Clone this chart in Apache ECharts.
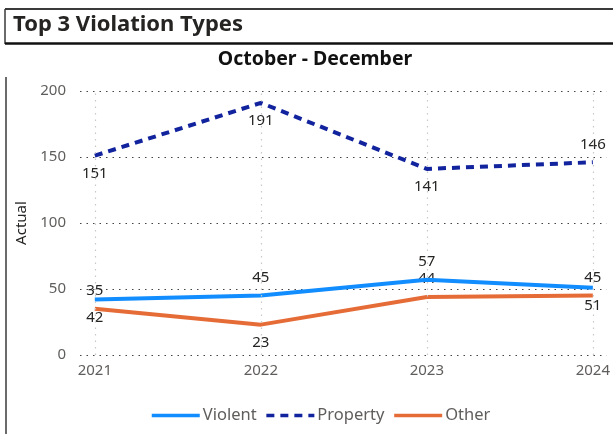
<!DOCTYPE html>
<html><head><meta charset="utf-8">
<script src="https://cdn.jsdelivr.net/npm/echarts@6/dist/echarts.min.js"></script>
<style>html,body{margin:0;padding:0;background:#fff;}#c{width:613px;height:434px;}</style>
</head><body><div id="c"></div>
<script>
const years = [2021, 2022, 2023, 2024];
const violent = [42, 45, 57, 51];
const property = [151, 191, 141, 146];
const other = [35, 23, 44, 45];
const yTicks = [0, 50, 100, 150, 200];

const FONT = 'Noto Sans';
function pts(vals, places) {
  return years.map((y, i) => ({ value: [y, vals[i]], label: { position: places[i] } }));
}
const chart = echarts.init(document.getElementById('c'), null, { renderer: 'canvas' });
const labelBase = { show: true, fontFamily: FONT, fontSize: 15, color: '#252423', distance: 10,
  formatter: p => String(p.value[1]) };
const hiddenDot = { color: 'rgba(0,0,0,0)', borderWidth: 0 };
const option = {
  animation: false,
  backgroundColor: '#fff',
  textStyle: { fontFamily: FONT },
  graphic: [
    { type: 'line', shape: { x1: 5, y1: 9, x2: 613, y2: 9 }, style: { stroke: '#3a3a3a', lineWidth: 2 } },
    { type: 'line', shape: { x1: 5, y1: 9, x2: 5, y2: 44 }, style: { stroke: '#3a3a3a', lineWidth: 1.5 } },
    { type: 'line', shape: { x1: 5, y1: 43.5, x2: 613, y2: 43.5 }, style: { stroke: '#111', lineWidth: 2.5 } },
    { type: 'line', shape: { x1: 6, y1: 77, x2: 6, y2: 434 }, style: { stroke: '#3a3a3a', lineWidth: 1.5 } },
    { type: 'text', x: 13, y: 25, style: { text: 'Top 3 Violation Types', fontFamily: FONT, fontSize: 22,
      fontWeight: 'bold', fill: '#252423', textVerticalAlign: 'middle' } },
    { type: 'text', x: 315, y: 59, style: { text: 'October - December', fontFamily: FONT, fontSize: 19.5,
      fontWeight: 'bold', fill: '#111', textAlign: 'center', textVerticalAlign: 'middle' } }
  ],
  grid: { left: 80, right: 0, top: 91, bottom: 79, containLabel: false },
  xAxis: {
    type: 'value', min: 2021 - 15 / 168, max: 2024 + 14 / 168,
    axisLine: { show: false }, axisTick: { show: false }, splitLine: { show: false },
    axisLabel: { customValues: years, formatter: v => String(v), color: '#605E5C', fontSize: 15, margin: 8, fontFamily: FONT }
  },
  yAxis: {
    type: 'value', min: yTicks[0], max: yTicks[yTicks.length - 1], interval: 50,
    name: 'Actual', nameLocation: 'middle', nameGap: 50, nameRotate: 90,
    nameTextStyle: { color: '#252423', fontSize: 15, fontFamily: FONT },
    axisLine: { show: false }, axisTick: { show: false },
    axisLabel: { color: '#605E5C', fontSize: 15, margin: 14, fontFamily: FONT },
    splitLine: { lineStyle: { type: [1.5, 5], color: '#444', width: 1.2 } }
  },
  legend: {
    data: ['Violent', 'Property', 'Other'],
    left: 145, top: 402, itemWidth: 48, itemHeight: 14, itemGap: 8,
    itemStyle: { opacity: 0 },
    lineStyle: { width: 3.5 },
    textStyle: { color: '#605E5C', fontSize: 16.5, fontFamily: FONT, padding: [0, 0, 0, -2] }
  },
  series: [
    {
      name: 'grid-v', type: 'line', data: [], silent: true,
      markLine: { silent: true, symbol: 'none', label: { show: false },
        lineStyle: { type: [1.5, 5], color: '#C8C8C8', width: 1.2 },
        data: years.map(y => ({ xAxis: y })) }
    },
    {
      name: 'Violent', type: 'line', symbol: 'circle', symbolSize: 1, showSymbol: true, z: 3,
      lineStyle: { color: '#118DFF', width: 4 }, itemStyle: hiddenDot,
      label: labelBase, labelLayout: { hideOverlap: false },
      data: pts(violent, ['bottom', 'top', 'top', 'bottom'])
    },
    {
      name: 'Property', type: 'line', symbol: 'circle', symbolSize: 1, showSymbol: true, z: 3,
      lineStyle: { color: '#12239E', width: 4, type: [8, 6] }, itemStyle: hiddenDot,
      label: labelBase, labelLayout: { hideOverlap: false },
      data: pts(property, ['bottom', 'bottom', 'bottom', 'top'])
    },
    {
      name: 'Other', type: 'line', symbol: 'circle', symbolSize: 1, showSymbol: true, z: 2,
      lineStyle: { color: '#E66C37', width: 4 }, itemStyle: hiddenDot,
      label: labelBase, labelLayout: { hideOverlap: false },
      data: pts(other, ['top', 'bottom', 'top', 'top'])
    }
  ]
};
chart.setOption(option);
</script></body></html>
